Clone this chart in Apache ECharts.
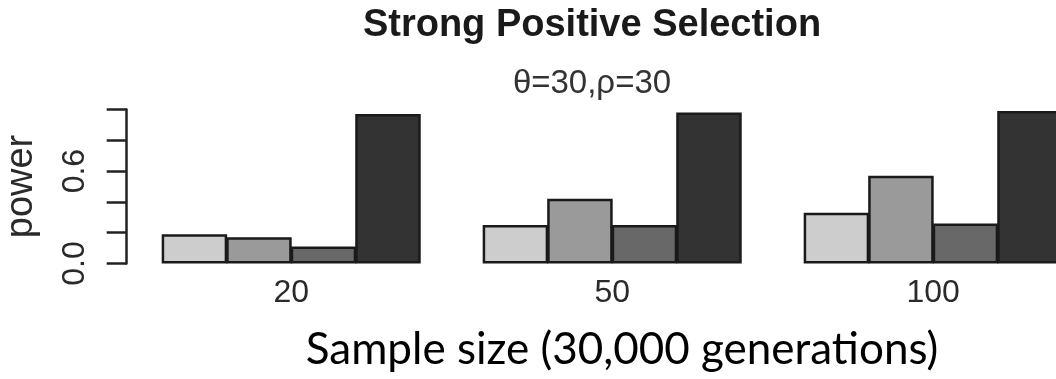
<!DOCTYPE html>
<html>
<head>
<meta charset="utf-8">
<script src="https://cdn.jsdelivr.net/npm/echarts@6/dist/echarts.min.js"></script>
<style>
  html, body { margin: 0; padding: 0; background: #ffffff; }
  #chart { width: 1056px; height: 379px; }
</style>
</head>
<body>
<div id="chart"></div>
<script>
// ---- data ----
const categories = ['20', '50', '100'];
const seriesNames = ['Method 1', 'Method 2', 'Method 3', 'Method 4'];
const method1 = [0.19, 0.25, 0.33];
const method2 = [0.17, 0.42, 0.57];
const method3 = [0.11, 0.25, 0.26];
const method4 = [0.97, 0.98, 0.99];
const yTicksShown = [0.0, 0.6];
const titleText = 'Strong Positive Selection';
const subtitleText = 'θ=30,ρ=30';
const xAxisTitle = 'Sample size (30,000 generations)';
const yAxisTitle = 'power';

const barColors = ['#cdcdcd', '#9a9a9a', '#686868', '#333333'];
const seriesData = [method1, method2, method3, method4];

const chart = echarts.init(document.getElementById('chart'), null, { renderer: 'canvas' });

const option = {
  animation: false,
  backgroundColor: '#ffffff',
  grid: { left: 130.7, top: 109.5, width: 963, height: 154, containLabel: false, outerBoundsMode: 'none' },
  xAxis: {
    type: 'category',
    data: categories,
    axisLine: { show: false },
    axisTick: { show: false },
    axisLabel: {
      margin: 14,
      fontFamily: 'Liberation Sans',
      fontSize: 32,
      color: '#2a2a2a'
    }
  },
  yAxis: {
    type: 'value',
    min: 0,
    max: 1,
    interval: 0.2,
    offset: 4,
    name: yAxisTitle,
    nameLocation: 'middle',
    nameGap: 86,
    nameTextStyle: { fontFamily: 'Liberation Sans', fontSize: 38, color: '#2a2a2a' },
    axisLine: { show: true, lineStyle: { color: '#222222', width: 2.5 } },
    axisTick: { show: true, length: 20, lineStyle: { color: '#222222', width: 2.5 } },
    splitLine: { show: false },
    axisLabel: {
      rotate: 90,
      margin: 36,
      fontFamily: 'Liberation Sans',
      fontSize: 32,
      color: '#2a2a2a',
      formatter: function (v) {
        for (const t of yTicksShown) {
          if (Math.abs(v - t) < 1e-9) return t.toFixed(1);
        }
        return '';
      }
    }
  },
  series: seriesData.map(function (d, i) {
    return {
      name: seriesNames[i],
      type: 'bar',
      data: d,
      barGap: '-1.5%',
      barCategoryGap: '19.3%',
      itemStyle: { color: barColors[i], borderColor: '#1a1a1a', borderWidth: 2.5 }
    };
  }),
  graphic: [
    {
      type: 'text', x: 592, y: 26,
      style: { text: titleText, align: 'center', verticalAlign: 'middle',
        font: 'bold 38px "Liberation Sans"', fill: '#1a1a1a' }
    },
    {
      type: 'text', x: 592, y: 84,
      style: { text: subtitleText, align: 'center', verticalAlign: 'middle',
        font: '33px "Liberation Sans"', fill: '#333333' }
    },
    {
      type: 'text', x: 622, y: 350,
      style: { text: xAxisTitle, align: 'center', verticalAlign: 'middle',
        font: '44px Lato', fill: '#000000' }
    }
  ]
};

chart.setOption(option);
</script>
</body>
</html>
